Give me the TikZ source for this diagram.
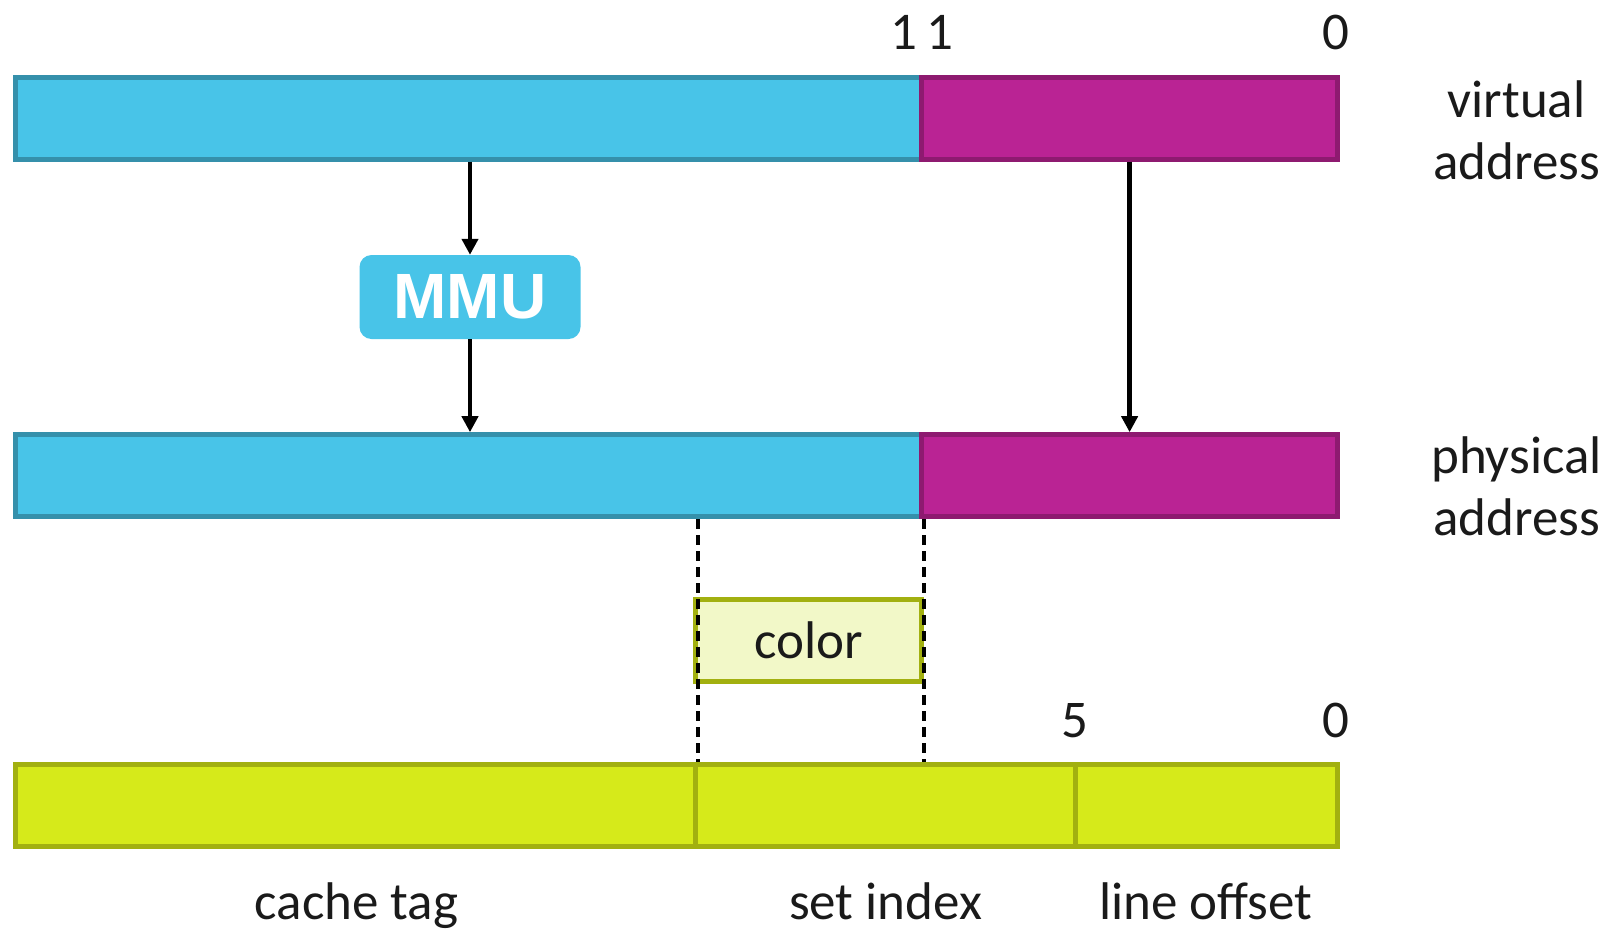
\documentclass[tikz,border=0pt]{standalone}
\usepackage{fontspec}
\setmainfont{Carlito}
\newfontfamily\mmufont{Liberation Sans}
\usetikzlibrary{arrows.meta}
\definecolor{pagecyan}{HTML}{48C4E8}
\definecolor{pagecyanline}{HTML}{3590AB}
\definecolor{offmagenta}{HTML}{BA2394}
\definecolor{offmagentaline}{HTML}{8E1A70}
\definecolor{cachelime}{HTML}{D6EA1A}
\definecolor{cachelimeline}{HTML}{A2B010}
\definecolor{colorpale}{HTML}{F2F8C8}
\definecolor{labeltext}{HTML}{1A1A1A}

\begin{document}
\begin{tikzpicture}[x=1pt,y=-1pt,
				field/.style={line width=5pt, minimum height=82pt, inner sep=0pt},
				vpn/.style={field, fill=pagecyan, draw=pagecyanline},
				offs/.style={field, fill=offmagenta, draw=offmagentaline},
				cfield/.style={field, fill=cachelime, draw=cachelimeline},
				lbl/.style={font=\fontsize{53}{62}\selectfont, text=labeltext, inner sep=0pt},
				arr/.style={line width=4.5pt, -{Triangle[length=16pt,width=16pt]}},
				guide/.style={line width=3.2pt, dash pattern=on 10pt off 6pt}]
				\useasboundingbox (0,0) rectangle (1611,930);
				
				\node[vpn, minimum width=906pt] (vhigh) at (468.5,118) {};
				\node[offs, minimum width=416pt] (vlow) at (1129.6,118) {};
				
				\node[vpn, minimum width=906pt] (phigh) at (468.5,475.7) {};
				\node[offs, minimum width=416pt] (plow) at (1129.6,475.7) {};
				
				\node[fill=pagecyan, rounded corners=12pt, minimum width=221pt, minimum height=84pt,
					inner sep=0pt, text=white, font=\mmufont\bfseries\fontsize{64}{70}\selectfont] (mmu) at (470,297) {MMU};
				
				\node[field, fill=colorpale, draw=cachelimeline, minimum width=226pt,
					font=\fontsize{53}{62}\selectfont, text=labeltext] (color) at (808.6,640) {color};
				
				\node[cfield, minimum width=680pt] (ctag) at (355.5,805.3) {};
				\node[cfield, minimum width=380pt] (cset) at (885.6,805.3) {};
				\node[cfield, minimum width=262pt] (coff) at (1206.7,805.3) {};
				
				\draw[arr] (vhigh.south -| mmu.north) -- (mmu.north);
				\draw[arr] (mmu.south) -- (mmu.south |- phigh.north);
				\draw[arr] (vlow.south) -- (plow.north);
				
				\draw[guide] (ctag.north east |- phigh.south) -- (ctag.north east);
				\draw[guide] (phigh.south east) -- (phigh.south east |- cset.north);
				
				\node[lbl, anchor=base] (vbit11) at (921.6,49) {1\,1};
				\node[lbl, anchor=base] (vbit0) at (1335.6,49) {0};
				\node[lbl, anchor=base] (cbit5) at (1074.7,737) {5};
				\node[lbl, anchor=base] (cbit0) at (1335.6,737) {0};
				
				\node[lbl, align=center] (vname) at (1516.5,130) {virtual\\address};
				\node[lbl, align=center] (pname) at (1516.5,486) {physical\\address};
				
				\node[lbl, anchor=base] (tagname) at (356.5,919.5) {cache tag};
				\node[lbl, anchor=base] (setname) at (885.6,919.5) {set index};
				\node[lbl, anchor=base] (offname) at (1206,919.5) {line offset};
\end{tikzpicture}
\end{document}
